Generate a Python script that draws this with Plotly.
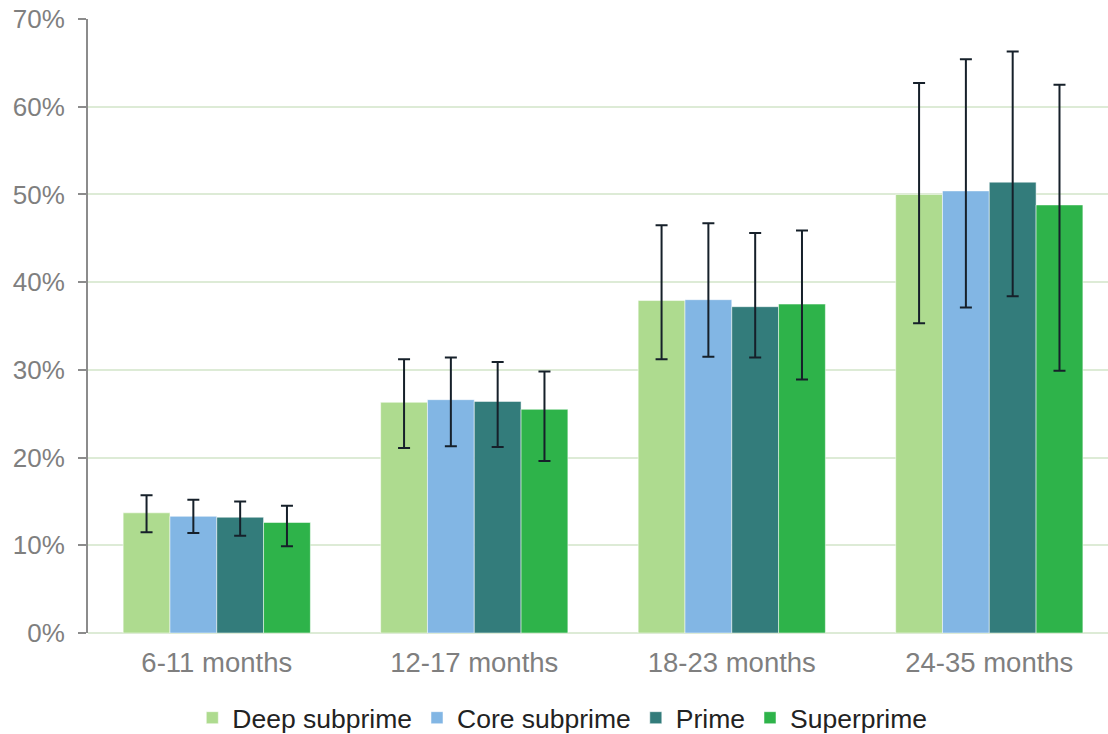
import plotly.graph_objects as go

categories = ["6-11 months", "12-17 months", "18-23 months", "24-35 months"]
series_names = ["Deep subprime", "Core subprime", "Prime", "Superprime"]

deep_subprime = [13.7, 26.3, 37.9, 50.0]
core_subprime = [13.3, 26.6, 38.0, 50.4]
prime = [13.2, 26.4, 37.2, 51.4]
superprime = [12.6, 25.5, 37.5, 48.8]

deep_subprime_hi = [15.7, 31.2, 46.5, 62.7]
core_subprime_hi = [15.2, 31.4, 46.7, 65.4]
prime_hi = [15.0, 30.9, 45.6, 66.3]
superprime_hi = [14.5, 29.8, 45.9, 62.5]

deep_subprime_lo = [11.5, 21.1, 31.2, 35.3]
core_subprime_lo = [11.4, 21.3, 31.5, 37.1]
prime_lo = [11.1, 21.2, 31.4, 38.4]
superprime_lo = [9.9, 19.6, 28.9, 29.9]

tick_vals = [0, 10, 20, 30, 40, 50, 60, 70]
tick_text = ["0%", "10%", "20%", "30%", "40%", "50%", "60%", "70%"]

colors = ["#AEDB8F", "#82B6E4", "#337C7B", "#2EB34A"]
values = [deep_subprime, core_subprime, prime, superprime]
his = [deep_subprime_hi, core_subprime_hi, prime_hi, superprime_hi]
los = [deep_subprime_lo, core_subprime_lo, prime_lo, superprime_lo]

fig = go.Figure()
for name, col, v, hi, lo in zip(series_names, colors, values, his, los):
    fig.add_trace(go.Bar(
        x=categories, y=v, name=name,
        marker=dict(color=col, line=dict(color="rgba(255,255,255,0.5)", width=1)),
        error_y=dict(type="data", symmetric=False,
                     array=[h - y for h, y in zip(hi, v)],
                     arrayminus=[y - l for y, l in zip(v, lo)],
                     color="#16202A", thickness=2, width=6),
    ))

fig.update_layout(
    width=1108, height=734,
    barmode="group", bargap=0.273, bargroupgap=0,
    plot_bgcolor="white", paper_bgcolor="white",
    margin=dict(l=88, r=0, t=19, b=101, autoexpand=False),
    font=dict(family="Liberation Sans, Arial, sans-serif", size=26, color="#7F7F7F"),
    xaxis=dict(range=[-0.5, 3.461], showline=False, showgrid=False, ticks="",
               automargin=False, ticklabelstandoff=10,
               tickfont=dict(size=27.5, color="#7F7F7F")),
    yaxis=dict(range=[0, 70], tickmode="array", tickvals=tick_vals, ticktext=tick_text,
               automargin=False, ticklabelstandoff=8,
               showgrid=True, gridcolor="#DDEBD6", gridwidth=1.5,
               zeroline=True, zerolinecolor="#DDEBD6", zerolinewidth=1.5,
               showline=True, linecolor="#8C8C8C", linewidth=2,
               ticks="outside", ticklen=8, tickcolor="#8C8C8C", tickwidth=1.5,
               tickfont=dict(size=26, color="#7F7F7F")),
    legend=dict(orientation="h", x=0.465, xanchor="center", y=-0.1384, yanchor="middle",
                font=dict(size=26.5, color="#222222")),
    showlegend=True,
)

fig.write_html("out.html", config={"displayModeBar": False},
               post_script="document.body.style.margin='0';document.body.style.overflow='hidden';")
